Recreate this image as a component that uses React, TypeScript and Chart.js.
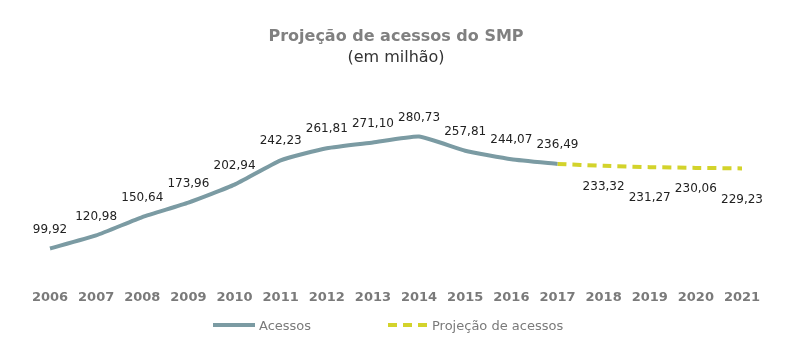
import React, { useEffect, useRef } from "react";
import { Chart, registerables } from "chart.js";

Chart.register(...registerables);

const years = ["2006", "2007", "2008", "2009", "2010", "2011", "2012", "2013", "2014", "2015", "2016", "2017", "2018", "2019", "2020", "2021"];
const acessos: (number | null)[] = [99.92, 120.98, 150.64, 173.96, 202.94, 242.23, 261.81, 271.10, 280.73, 257.81, 244.07, 236.49, null, null, null, null];
const projecao: (number | null)[] = [null, null, null, null, null, null, null, null, null, null, null, 236.49, 233.32, 231.27, 230.06, 229.23];
const seriesNames = ["Acessos", "Projeção de acessos"];
const titleText = "Projeção de acessos do SMP";
const subtitleText = "(em milhão)";

const BLUE = "#7b9ba3";
const YELLOW = "#d3d32b";
const GRAY = "#7a7a7a";

const fmt = (v: number) => v.toFixed(2).replace(".", ",");

const valueLabels = {
  id: "valueLabels",
  afterDatasetsDraw(chart: any) {
    const ctx = chart.ctx;
    ctx.save();
    ctx.font = "12px 'DejaVu Sans'";
    ctx.fillStyle = "#222222";
    ctx.textAlign = "center";
    ctx.textBaseline = "middle";
    chart.data.datasets.forEach((ds: any, di: number) => {
      const meta = chart.getDatasetMeta(di);
      let k = 0;
      meta.data.forEach((pt: any, i: number) => {
        const v = ds.data[i];
        if (v == null) return;
        if (di === 1 && acessos[i] != null) return;
        const dy = di === 0 ? -19 : k % 2 === 0 ? 21 : 31;
        k++;
        ctx.fillText(fmt(v), pt.x, pt.y + dy);
      });
    });
    ctx.restore();
  },
};

export default function App() {
  const ref = useRef<HTMLCanvasElement | null>(null);
  useEffect(() => {
    if (!ref.current) return;
    const chart = new Chart(ref.current, {
      type: "line",
      data: {
        labels: years,
        datasets: [
          {
            label: seriesNames[0],
            data: acessos,
            borderColor: BLUE,
            backgroundColor: BLUE,
            borderWidth: 4,
            pointRadius: 0,
            tension: 0.15,
            spanGaps: false,
          },
          {
            label: seriesNames[1],
            data: projecao,
            borderColor: YELLOW,
            backgroundColor: YELLOW,
            borderWidth: 4,
            borderDash: [9, 6],
            pointRadius: 0,
            tension: 0.15,
          },
        ],
      },
      options: {
        responsive: true,
        maintainAspectRatio: false,
        animation: false,
        layout: { padding: { left: 42, right: 58, top: 0, bottom: 25 } },
        plugins: {
          legend: { display: false },
          tooltip: { enabled: false },
          title: {
            display: true,
            text: titleText,
            color: "#808080",
            font: { family: "'DejaVu Sans'", size: 16, weight: "bold" },
            padding: { top: 19, bottom: 2 },
          },
          subtitle: {
            display: true,
            text: subtitleText,
            color: "#333333",
            font: { family: "'DejaVu Sans'", size: 16, weight: "normal" },
            padding: { top: 0, bottom: 20 },
          },
        },
        scales: {
          x: {
            offset: false,
            grid: { display: false, drawTicks: false },
            border: { display: false },
            ticks: {
              color: GRAY,
              padding: 10,
              maxRotation: 0,
              autoSkip: false,
              font: { family: "'DejaVu Sans'", size: 13, weight: "bold" },
            },
          },
          y: { display: false, min: 50, max: 360 },
        },
      },
      plugins: [valueLabels],
    });
    return () => chart.destroy();
  }, []);

  const legendText: React.CSSProperties = {
    fontFamily: "'DejaVu Sans'",
    fontSize: 13,
    color: GRAY,
    marginLeft: 4,
  };

  return (
    <div style={{ position: "relative", width: 792, height: 332 }}>
      <canvas ref={ref} />
      <div style={{ position: "absolute", top: 308, left: 205, display: "flex", alignItems: "center", height: 18 }}>
        <span style={{ display: "inline-block", width: 42, height: 4, background: BLUE }} />
        <span style={legendText}>{seriesNames[0]}</span>
      </div>
      <div style={{ position: "absolute", top: 308, left: 380, display: "flex", alignItems: "center", height: 18 }}>
        <span
          style={{
            display: "inline-block",
            width: 40,
            height: 4,
            background: `repeating-linear-gradient(90deg, ${YELLOW} 0 9px, transparent 9px 15px)`,
          }}
        />
        <span style={legendText}>{seriesNames[1]}</span>
      </div>
    </div>
  );
}
